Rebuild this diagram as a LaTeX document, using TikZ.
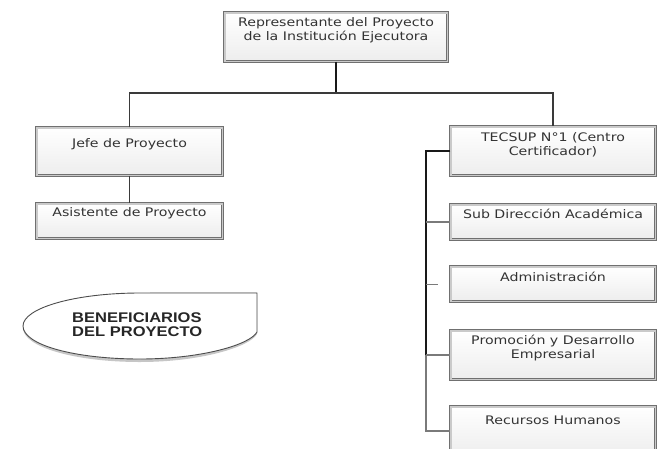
\documentclass[tikz,border=0pt]{standalone}
\usepackage{fontspec}
\usetikzlibrary{shadows}
\newfontfamily\boxfont[FakeStretch=1.2]{DejaVu Sans}
\newfontfamily\benfont[FakeStretch=1.18]{Liberation Sans}
\definecolor{frame}{HTML}{707070}
\definecolor{frameband}{HTML}{CACACA}
\definecolor{linkdark}{HTML}{3A3A3A}
\definecolor{linklight}{HTML}{7A7A7A}
\definecolor{txt}{HTML}{333333}

\begin{document}
\begin{tikzpicture}[x=1pt,y=-1pt,
  unitbox/.style={draw=frame, line width=0.8pt, double=frameband, double distance=1.6pt,
    top color=white, bottom color=gray!14,
    drop shadow={opacity=0.25, shadow xshift=1pt, shadow yshift=-1pt}, inner sep=0pt},
  boxlabel/.style={anchor=north, inner sep=0pt, font=\boxfont\fontsize{11.8}{14}\selectfont,
    text=txt, align=center},
  benlabel/.style={inner sep=0pt, font=\benfont\bfseries\fontsize{14}{14}\selectfont,
    text=black!85, align=left},
  link/.style={draw=linkdark, line width=1.6pt},
  strong/.style={draw=black!90, line width=2pt},
  sublink/.style={draw=linklight, line width=1.4pt},
]
\useasboundingbox (0,0) rectangle (661,448);
\clip (0,0) rectangle (661,448);

% --- organisation units ---
\node[unitbox, minimum width=222.6pt, minimum height=48.6pt,
  label={[boxlabel, yshift=-5.5pt]north:Representante del Proyecto\\de la Institución Ejecutora}]
  (rep) at (336,37) {};
\node[unitbox, minimum width=185.6pt, minimum height=47.6pt,
  label={[boxlabel, yshift=-10.9pt]north:Jefe de Proyecto}]
  (jefe) at (129.5,151.5) {};
\node[unitbox, minimum width=185.6pt, minimum height=34.6pt,
  label={[boxlabel, yshift=-3.9pt]north:Asistente de Proyecto}]
  (asis) at (129.5,221) {};
\node[unitbox, minimum width=204.6pt, minimum height=48.6pt,
  label={[boxlabel, yshift=-5.6pt]north:TECSUP N°1 (Centro\\Certificador)}]
  (tecsup) at (553,151) {};
\node[unitbox, minimum width=204.6pt, minimum height=34.6pt,
  label={[boxlabel, yshift=-4.2pt]north:Sub Dirección Académica}]
  (sub) at (553,222) {};
\node[unitbox, minimum width=204.6pt, minimum height=34.6pt,
  label={[boxlabel, yshift=-5.2pt]north:Administración}]
  (admin) at (553,284) {};
\node[unitbox, minimum width=204.6pt, minimum height=48.6pt,
  label={[boxlabel, yshift=-4.6pt]north:Promoción y Desarrollo\\Empresarial}]
  (promo) at (553,355) {};
\node[unitbox, minimum width=204.6pt, minimum height=48.6pt,
  label={[boxlabel, yshift=-9pt]north:Recursos Humanos}]
  (rec) at (553,431) {};

% --- hierarchy connectors ---
\coordinate (fork) at (336,93);
\draw[strong] (rep) -- (fork);
\draw[link] (jefe) |- (fork) -| (tecsup);
\draw[link] (jefe) -- (asis);

\coordinate (trunktop) at (426,151);
\coordinate (adminstub) at (438,284);
\draw[strong] (tecsup.west) -- (trunktop) -- (trunktop |- promo.west);
\draw[sublink] (trunktop |- promo.west) -- (trunktop |- rec.west) -- (rec.west);
\draw[sublink] (trunktop |- sub.west) -- (sub.west);
\draw[sublink] (trunktop |- promo.west) -- (promo.west);
\draw[sublink, line width=1pt] (trunktop |- admin.west) -- (adminstub);

% --- beneficiaries bubble ---
\fill[gray!45] (257,295) -- (140,295) .. controls (75,295) and (23,310) .. (23,328)
  .. controls (23,347) and (75,362) .. (140,362)
  .. controls (200,362) and (250,347) .. (257,334) -- cycle;
\draw[draw=gray!60!black, line width=0.9pt, fill=white] (257,293) -- (140,293)
  .. controls (75,293) and (23,308) .. (23,326)
  .. controls (23,345) and (75,359) .. (140,359)
  .. controls (200,359) and (250,345) .. (257,332) -- cycle;
\draw[draw=gray!60, line width=1.6pt] (150,292.6) -- (257,292.6);
\node[benlabel, anchor=west] (benef) at (72,325) {BENEFICIARIOS\\DEL PROYECTO};
\end{tikzpicture}
\end{document}
